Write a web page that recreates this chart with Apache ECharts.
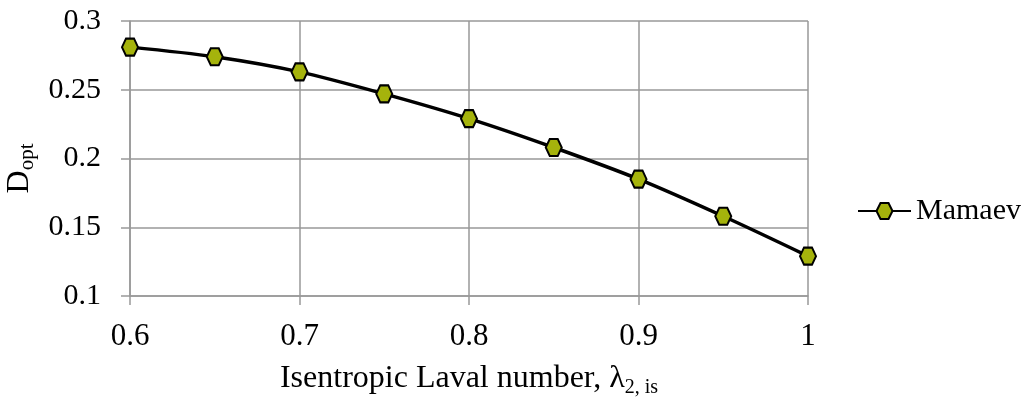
<!DOCTYPE html>
<html>
<head>
<meta charset="utf-8">
<script src="https://cdn.jsdelivr.net/npm/echarts@6/dist/echarts.min.js"></script>
<style>
  html, body { margin: 0; padding: 0; background: #fff; }
  #chart { width: 1027px; height: 400px; }
</style>
</head>
<body>
<div id="chart"></div>
<script>
// data
var lambdaVals = [0.6, 0.65, 0.7, 0.75, 0.8, 0.85, 0.9, 0.95, 1.0];
var mamaevVals = [0.281, 0.274, 0.263, 0.247, 0.229, 0.208, 0.185, 0.158, 0.129];
var seriesName = 'Mamaev';

var hexagon = 'path://M0,5 L3,0 L9,0 L12,5 L9,10 L3,10 Z';
var fontFam = '"Liberation Serif", "Times New Roman", serif';

var myChart = echarts.init(document.getElementById('chart'));

var points = lambdaVals.map(function (x, i) { return [x, mamaevVals[i]]; });

var option = {
    animation: false,
    textStyle: { fontFamily: fontFam },
    grid: { left: 130, right: 219, top: 21, bottom: 104, containLabel: false, outerBoundsMode: 'none' },
    legend: {
        data: [seriesName],
        orient: 'vertical',
        left: 857,
        top: 196,
        padding: 0,
        itemWidth: 53,
        itemHeight: 20,
        itemGap: 4,
        textStyle: { fontFamily: fontFam, fontSize: 30, color: '#000' }
    },
    xAxis: {
        type: 'value',
        min: 0.6,
        max: 1.0,
        interval: 0.1,
        name: '{m|Isentropic Laval number, λ}{s|2, is}',
        nameLocation: 'middle',
        nameGap: 64,
        nameTextStyle: {
            rich: {
                m: { fontFamily: fontFam, fontSize: 32, color: '#000' },
                s: { fontFamily: fontFam, fontSize: 20, color: '#000', padding: [18, 0, 0, 0] }
            }
        },
        axisLine: { show: true, lineStyle: { color: '#999', width: 1.5 } },
        axisTick: { show: true, length: 9, lineStyle: { color: '#999', width: 1.5 } },
        axisLabel: { fontFamily: fontFam, fontSize: 31, color: '#000', margin: 25 },
        splitLine: { show: true, lineStyle: { color: '#999', width: 1.5 } }
    },
    yAxis: {
        type: 'value',
        min: 0.1,
        max: 0.3,
        interval: 0.05,
        name: '{m|D}{s|opt}',
        nameLocation: 'middle',
        nameRotate: 90,
        nameGap: 89,
        nameTextStyle: {
            rich: {
                m: { fontFamily: fontFam, fontSize: 32, color: '#000' },
                s: { fontFamily: fontFam, fontSize: 21, color: '#000', padding: [15, 20, 0, 0] }
            }
        },
        axisLine: { show: true, lineStyle: { color: '#999', width: 1.5 } },
        axisTick: { show: true, length: 9, lineStyle: { color: '#999', width: 1.5 } },
        axisLabel: { fontFamily: fontFam, fontSize: 30, color: '#000', margin: 29 },
        splitLine: { show: true, lineStyle: { color: '#999', width: 1.5 } }
    },
    series: [
        {
            name: seriesName,
            type: 'line',
            data: points,
            smooth: 0.3,
            symbol: hexagon,
            symbolSize: [16, 17],
            lineStyle: { color: '#000', width: 3.5 },
            itemStyle: { color: '#a5b30c', borderColor: '#000', borderWidth: 2 }
        }
    ]
};
myChart.setOption(option);
</script>
</body>
</html>
